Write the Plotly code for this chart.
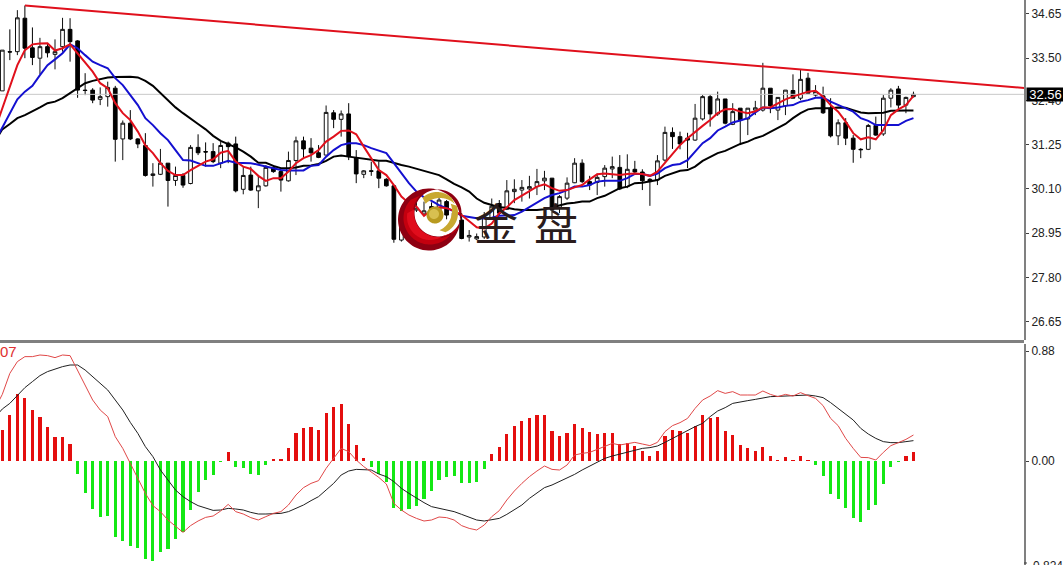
import numpy as np
import plotly.graph_objects as go

opens = [32.65,33.67,33.67,34.54,33.77,33.50,33.80,33.60,33.80,34.25,
33.95,32.67,32.67,32.43,32.50,32.72,31.40,31.81,31.40,31.23,
30.45,30.48,30.77,30.32,30.45,30.24,31.18,31.07,31.07,30.77,
31.29,31.27,30.09,30.46,30.05,30.18,30.66,30.55,30.31,30.84,
31.35,31.16,31.04,30.98,32.08,31.91,32.05,30.91,30.48,30.57,
30.57,30.35,30.18,28.77,29.12,29.55,29.45,29.64,29.42,29.77,
29.47,29.29,28.85,28.80,28.85,29.35,29.72,29.57,30.03,30.07,
30.10,30.16,30.31,30.38,29.62,29.86,30.26,30.77,30.29,30.27,
30.42,30.62,30.66,30.16,30.61,30.54,30.35,30.33,30.85,31.57,
31.46,31.42,31.37,31.92,32.50,32.05,32.44,31.78,32.20,31.92,
32.15,32.15,32.72,32.15,32.26,32.66,32.46,32.98,32.54,32.52,
32.20,31.48,31.82,31.42,31.13,31.13,31.75,31.53,32.46,32.70,
32.28,32.50]
closes = [33.71,33.66,34.55,33.76,33.52,33.80,33.64,33.67,34.25,33.93,
32.67,32.66,32.41,32.50,32.74,31.39,31.81,31.40,31.27,30.45,
30.49,30.77,30.32,30.45,30.20,31.18,31.04,31.06,30.81,31.23,
31.20,30.05,30.45,30.07,30.18,30.66,30.55,30.33,30.84,31.35,
31.14,31.04,30.92,32.09,31.91,32.05,30.94,30.49,30.57,30.56,
30.38,30.18,28.79,29.12,29.55,29.60,29.53,29.38,29.81,29.42,
29.34,28.81,28.89,28.86,29.35,29.65,29.47,30.05,30.09,30.14,
30.16,30.29,30.38,29.55,29.90,30.25,30.77,30.29,30.20,30.40,
30.64,30.68,30.10,30.61,30.54,30.31,30.29,30.83,31.57,31.46,
31.27,31.37,31.94,32.50,32.05,32.44,31.81,32.11,31.89,32.20,
32.21,32.72,32.26,32.48,32.67,32.46,32.95,32.59,32.63,32.08,
31.48,31.82,31.42,31.13,31.12,31.75,31.50,32.46,32.67,32.28,
32.48,32.56]
highs = [33.71,34.25,34.75,34.87,34.30,34.03,33.89,33.99,34.55,34.54,
33.97,33.11,32.72,32.74,32.89,32.78,31.88,32.15,31.42,31.55,
30.77,31.14,30.77,30.68,30.51,31.24,31.52,31.31,31.29,31.33,
31.33,31.46,30.68,30.68,30.46,30.72,30.72,30.59,31.07,31.46,
31.46,31.42,31.24,32.27,32.15,32.14,32.33,31.11,30.59,30.81,
30.81,30.38,30.20,29.30,29.70,29.75,29.77,29.75,29.90,29.81,
29.60,29.47,29.03,28.94,29.50,29.85,29.81,30.33,30.35,30.33,
30.44,30.62,30.57,30.38,29.94,30.40,30.90,30.87,30.44,30.50,
30.72,30.94,30.98,31.00,30.83,30.61,30.38,30.98,31.72,31.70,
31.59,31.56,32.31,32.54,32.54,32.63,32.44,32.33,32.20,32.20,
32.39,33.38,32.72,32.48,32.67,33.08,33.21,33.12,32.80,32.76,
32.46,31.91,31.94,31.50,31.16,31.79,31.98,32.54,32.72,32.78,
32.50,32.63]
lows = [32.65,33.45,33.58,33.50,33.32,33.09,33.52,33.21,33.67,33.41,
32.47,32.54,32.33,32.28,32.24,30.81,30.85,31.37,31.16,30.42,
30.16,30.46,29.64,30.18,30.13,30.22,30.98,30.68,30.77,30.64,
30.77,30.01,29.96,30.05,29.60,30.16,30.52,30.03,30.29,30.46,
30.90,30.81,30.90,30.98,31.68,31.46,30.85,30.25,30.38,30.44,
30.12,30.16,28.70,28.73,29.05,29.50,29.40,29.30,29.35,29.31,
29.25,28.79,28.73,28.77,28.80,29.30,29.40,29.55,29.73,29.77,
29.85,29.94,30.07,29.30,29.47,29.81,30.25,30.25,30.07,29.94,
30.16,30.38,30.07,30.12,30.50,30.07,29.66,30.20,30.81,31.14,
31.13,30.64,31.35,31.88,31.72,32.00,31.78,31.76,31.24,31.50,
32.02,32.11,32.07,31.89,32.02,32.46,32.41,32.59,32.50,32.05,
31.44,31.24,31.24,30.78,30.90,31.11,31.48,31.48,32.22,32.15,
32.07,32.48]

# moving averages, first value belongs to bar -1 (just off the left edge)
ma_fast = [31.63,32.20,32.78,33.32,33.71,33.86,33.88,33.89,33.70,33.76,33.86,
33.63,33.37,33.15,32.85,32.72,32.33,32.07,31.89,31.59,31.23,
31.03,30.77,30.57,30.46,30.46,30.59,30.70,30.81,30.87,31.04,
31.09,30.81,30.68,30.62,30.44,30.31,30.38,30.38,30.55,30.77,
30.90,30.98,31.11,31.33,31.46,31.61,31.62,31.52,31.20,30.90,
30.59,30.46,30.20,29.90,29.73,29.64,29.40,29.55,29.62,29.60,
29.53,29.42,29.25,29.10,29.07,29.20,29.47,29.62,29.81,29.92,
30.03,30.16,30.22,30.12,30.05,30.07,30.14,30.20,30.35,30.48,
30.50,30.48,30.46,30.49,30.50,30.49,30.44,30.55,30.78,31.03,
31.24,31.42,31.59,31.74,31.89,32.07,32.17,32.18,32.11,32.07,
32.12,32.22,32.22,32.33,32.43,32.50,32.57,32.63,32.65,32.50,
32.28,32.11,31.85,31.55,31.39,31.44,31.39,31.63,32.02,32.17,
32.28,32.52]
ma_mid = [31.33,31.70,32.07,32.43,32.63,32.78,33.06,33.32,33.47,33.63,33.86,
33.76,33.58,33.41,33.32,33.24,32.98,32.80,32.54,32.28,31.94,
31.76,31.55,31.37,31.11,30.85,30.84,30.77,30.70,30.70,30.77,
30.83,30.78,30.78,30.77,30.73,30.68,30.64,30.59,30.58,30.58,
30.58,30.70,30.72,30.94,31.11,31.24,31.29,31.29,31.24,31.16,
31.09,31.03,30.77,30.50,30.25,30.03,29.88,29.79,29.68,29.60,
29.52,29.40,29.37,29.34,29.34,29.35,29.40,29.41,29.42,29.51,
29.62,29.74,29.86,29.94,29.99,30.07,30.16,30.16,30.20,30.29,
30.31,30.31,30.31,30.38,30.49,30.49,30.44,30.50,30.64,30.72,
30.75,30.85,31.07,31.29,31.42,31.62,31.72,31.83,31.88,31.94,
32.09,32.22,32.20,32.22,32.26,32.28,32.37,32.41,32.47,32.48,
32.37,32.28,32.20,32.11,31.94,31.87,31.76,31.76,31.76,31.76,
31.87,31.94]
ma_slow = [31.33,31.65,31.79,31.94,32.02,32.11,32.22,32.33,32.37,32.46,32.59,
32.72,32.85,32.91,32.95,33.00,33.01,33.02,33.02,33.00,32.91,
32.78,32.60,32.41,32.22,32.07,31.92,31.79,31.65,31.48,31.35,
31.27,31.18,31.07,30.94,30.78,30.78,30.70,30.64,30.64,30.66,
30.70,30.71,30.75,30.83,30.94,30.97,30.94,30.91,30.88,30.85,
30.83,30.83,30.77,30.72,30.68,30.62,30.57,30.52,30.46,30.35,
30.23,30.14,30.03,29.85,29.74,29.68,29.62,29.61,29.57,29.55,
29.55,29.55,29.57,29.62,29.68,29.72,29.74,29.77,29.77,29.86,
29.92,30.03,30.12,30.16,30.25,30.26,30.29,30.33,30.44,30.50,
30.57,30.59,30.68,30.83,30.94,31.03,31.09,31.18,31.27,31.33,
31.42,31.48,31.59,31.69,31.79,31.94,32.07,32.17,32.20,32.20,
32.20,32.22,32.21,32.15,32.09,32.07,32.07,32.08,32.13,32.14,
32.14,32.14]

trend_x = [3, 136]
trend_y = [34.87, 32.72]
last_price = 32.56

macd_hist = [.248,.368,.536,.501,.405,.355,.269,.192,.192,.136,
-.101,-.256,-.384,-.445,-.440,-.608,-.640,-.680,-.693,-.787,
-.800,-.731,-.701,-.627,-.571,-.392,-.248,-.152,-.112,-.008,
.072,-.048,-.053,-.101,-.109,-.032,.013,.019,.101,.221,
.261,.269,.248,.384,.432,.453,.299,.128,.021,-.045,
-.107,-.171,-.373,-.400,-.384,-.357,-.307,-.237,-.152,-.131,
-.123,-.173,-.173,-.165,-.067,.059,.115,.216,.280,.320,
.341,.365,.365,.243,.200,.221,.293,.264,.229,.216,
.221,.221,.133,.144,.123,.083,.043,.083,.203,.248,
.237,.221,.283,.368,.347,.349,.243,.208,.128,.107,
.080,.115,.043,.008,.029,.005,.043,.008,-.032,-.117,
-.264,-.307,-.379,-.453,-.485,-.392,-.352,-.184,-.045,-.008,
.043,.072]
macd_fast = [.416,.533,.701,.795,.835,.835,.848,.843,.827,.848,.843,
.728,.608,.488,.408,.355,.195,.101,-.019,-.139,-.259,
-.357,-.405,-.472,-.525,-.571,-.517,-.480,-.451,-.440,-.400,
-.347,-.405,-.424,-.453,-.472,-.445,-.419,-.405,-.352,-.272,
-.213,-.179,-.157,-.059,.021,.101,.075,.008,-.045,-.085,
-.131,-.184,-.339,-.392,-.432,-.459,-.480,-.472,-.448,-.453,
-.472,-.517,-.539,-.552,-.512,-.445,-.397,-.312,-.240,-.179,
-.125,-.080,-.040,-.067,-.072,-.032,.048,.061,.069,.093,
.115,.141,.128,.141,.149,.136,.123,.149,.235,.283,
.307,.341,.421,.488,.520,.563,.541,.555,.528,.528,
.528,.560,.533,.515,.533,.520,.547,.523,.501,.443,
.341,.283,.181,.101,.029,.027,.008,.069,.123,.147,
.173,.208]
macd_signal = [.347,.416,.461,.528,.587,.635,.683,.715,.736,.755,.768,
.768,.728,.675,.621,.568,.488,.408,.309,.221,.115,
.035,-.072,-.157,-.232,-.285,-.325,-.357,-.379,-.395,-.392,
-.379,-.384,-.392,-.411,-.424,-.424,-.419,-.419,-.405,-.379,
-.352,-.317,-.285,-.232,-.179,-.112,-.080,-.067,-.067,-.072,
-.104,-.125,-.165,-.219,-.259,-.299,-.333,-.365,-.379,-.392,
-.405,-.427,-.451,-.472,-.480,-.472,-.459,-.427,-.392,-.352,
-.299,-.253,-.213,-.192,-.165,-.133,-.107,-.072,-.040,-.011,
.021,.040,.056,.075,.088,.101,.107,.120,.149,.181,
.208,.240,.275,.301,.355,.400,.427,.461,.475,.483,
.493,.507,.515,.517,.520,.520,.528,.528,.520,.507,
.467,.421,.381,.328,.261,.216,.181,.155,.147,.147,
.155,.163]

price_ticks = [34.65, 33.50, 32.40, 31.25, 30.10, 28.95, 27.80, 26.65]
price_labels = ["34.65", "33.50", "32.40", "31.25", "30.10", "28.95", "27.80", "26.65"]
macd_ticks = [0.88, 0.0]
macd_labels = ["0.88", "0.00"]
macd_low_label = "-0.824"

W, H = 1063, 565
bars = list(range(len(opens)))
line_x = list(range(-1, len(opens)))
AXIS_X = 1024
GREY = "#808080"
RED_LINE = "#e0101c"
FONT = dict(family="Liberation Sans", size=12, color="#222222")

fig = go.Figure()
fig.add_trace(go.Scatter(x=[-1, 140], y=[last_price, last_price], mode="lines",
                         line=dict(color="#c8c8c8", width=1), xaxis="x", yaxis="y"))
fig.add_trace(go.Candlestick(
    x=bars, open=opens, high=highs, low=lows, close=closes,
    increasing=dict(line=dict(color="#101010", width=1), fillcolor="#ffffff"),
    decreasing=dict(line=dict(color="#000000", width=1), fillcolor="#000000"),
    whiskerwidth=0, xaxis="x", yaxis="y"))
fig.add_trace(go.Scatter(x=line_x, y=ma_slow, mode="lines", line=dict(color="#000000", width=2), xaxis="x", yaxis="y"))
fig.add_trace(go.Scatter(x=line_x, y=ma_mid, mode="lines", line=dict(color="#1410d0", width=2), xaxis="x", yaxis="y"))
fig.add_trace(go.Scatter(x=line_x, y=ma_fast, mode="lines", line=dict(color="#e0101c", width=2), xaxis="x", yaxis="y"))
fig.add_trace(go.Scatter(x=trend_x, y=trend_y, mode="lines", line=dict(color=RED_LINE, width=2), xaxis="x", yaxis="y"))

fig.add_trace(go.Bar(x=bars, y=macd_hist, width=0.42,
                     marker=dict(color=["#e40e0e" if v >= 0 else "#14e814" for v in macd_hist], line=dict(width=0)),
                     xaxis="x2", yaxis="y2"))
fig.add_trace(go.Scatter(x=line_x, y=macd_signal, mode="lines", line=dict(color="#202020", width=1), xaxis="x2", yaxis="y2"))
fig.add_trace(go.Scatter(x=line_x, y=macd_fast, mode="lines", line=dict(color="#e04848", width=1), xaxis="x2", yaxis="y2"))


def px(x):
    return x / W


def py(y):
    return 1 - y / H


def ring(cx, cy, r, n=72, a0=0.0, a1=2 * np.pi):
    t = np.linspace(a0, a1, n)
    return [(cx + r * np.cos(a), cy + r * np.sin(a)) for a in t]


def path(points):
    return "M " + " L ".join(f"{px(x):.5f},{py(y):.5f}" for x, y in points) + " Z"


def logo_part(d, color):
    return dict(type="path", xref="paper", yref="paper", layer="above",
                line=dict(width=0), fillcolor=color, path=d)


shapes = [
    dict(type="rect", xref="paper", yref="paper", x0=0, x1=px(AXIS_X), y0=py(343), y1=py(340),
         fillcolor=GREY, line=dict(width=0), layer="above"),
    # watermark logo: red crescents with a transparent hollow, gold arcs and a gold ball
    logo_part(path(ring(429, 219.5, 31)) + " " + path(ring(438, 213, 23.5)), "#8e0012"),
    logo_part(path(ring(430, 218, 26.5, a0=0.55, a1=3.9) + ring(438, 213, 25, a0=3.9, a1=0.55)), "#c4000f"),
    logo_part(path(ring(430, 217, 23, a0=1.0, a1=3.3) + ring(438, 213, 24, a0=3.3, a1=1.0)), "#e00c1c"),
    logo_part(path(ring(437, 213, 21, a0=3.95, a1=5.5) + ring(440, 219, 21, a0=5.5, a1=3.95)), "#c8a830"),
    logo_part(path(ring(437, 213, 21, a0=-0.35, a1=1.15) + ring(431, 211, 21, a0=1.15, a1=-0.35)), "#c8a830"),
    logo_part(path(ring(435, 215, 8.5)), "#b89a20"),
    logo_part(path(ring(434, 214, 5)), "#d8c050"),
    # tick mark of the clipped lowest MACD label
    dict(type="line", xref="paper", yref="paper", x0=px(AXIS_X), x1=px(AXIS_X + 3), y0=py(563), y1=py(563),
         line=dict(color="#404040", width=1)),
]

annotations = [
    dict(xref="paper", yref="paper", x=px(496), y=py(222), text="金", showarrow=False,
         font=dict(family="Noto Sans CJK SC", size=44, color="#2a1c1c"), xanchor="center", yanchor="middle"),
    dict(xref="paper", yref="paper", x=px(556), y=py(222), text="盘", showarrow=False,
         font=dict(family="Noto Sans CJK SC", size=44, color="#2a1c1c"), xanchor="center", yanchor="middle"),
    dict(xref="paper", yref="y", x=px(1026), y=last_price, text="32.56", showarrow=False,
         font=dict(family="Liberation Sans", size=13, color="#ffffff"), xanchor="left", yanchor="middle",
         bgcolor="#000000", borderpad=0, width=37, height=13, align="center"),
    dict(xref="paper", yref="paper", x=0, y=py(351), text="07", showarrow=False,
         font=dict(family="Liberation Sans", size=15, color="#e03030"), xanchor="left", yanchor="middle", xshift=-2),
    dict(xref="paper", yref="paper", x=px(1028), y=py(558), text=macd_low_label, showarrow=False,
         font=FONT, xanchor="left", yanchor="top", borderpad=0),
]

fig.update_layout(
    width=W, height=H, autosize=False,
    margin=dict(l=0, r=0, t=0, b=0, pad=0),
    paper_bgcolor="#ffffff", plot_bgcolor="#ffffff",
    showlegend=False, bargap=0, hovermode=False,
    shapes=shapes, annotations=annotations, font=FONT,
    xaxis=dict(domain=[0, px(AXIS_X)], range=[-0.305, 135.68], visible=False, rangeslider=dict(visible=False), anchor="y"),
    xaxis2=dict(domain=[0, px(AXIS_X)], range=[-0.305, 135.68], visible=False, anchor="y2"),
    yaxis=dict(domain=[py(340), 1], range=[26.17, 35.014], side="right", anchor="x",
               tickmode="array", tickvals=price_ticks, ticktext=price_labels, showgrid=False, zeroline=False,
               showline=True, linecolor=GREY, linewidth=2, ticks="outside", ticklen=3, tickcolor="#404040",
               tickfont=FONT),
    yaxis2=dict(domain=[0, py(344)], range=[-0.832, 0.936], side="right", anchor="x2",
                tickmode="array", tickvals=macd_ticks, ticktext=macd_labels, showgrid=False, zeroline=False,
                showline=True, linecolor=GREY, linewidth=2, ticks="outside", ticklen=3, tickcolor="#404040",
                tickfont=FONT),
)

fig.write_html("out.html", config=dict(displayModeBar=False),
               post_script="document.body.style.margin='0';document.body.style.overflow='hidden';")
